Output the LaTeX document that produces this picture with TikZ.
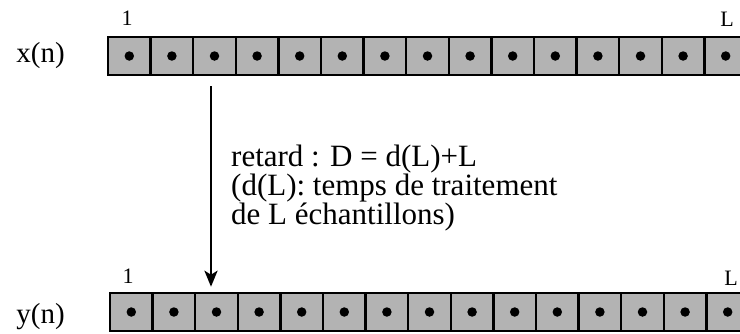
\documentclass[tikz,border=0pt]{standalone}
\usepackage{fontspec}
\setmainfont{Liberation Serif}
\usepackage{tikz}
\usetikzlibrary{positioning, arrows.meta, calc}

\definecolor{cellgray}{RGB}{179,179,179}

\begin{document}
\begin{tikzpicture}[
    x = 1pt, y = -1pt,
    > = {Stealth[length=16pt, width=13pt, inset=4pt]},
    cell/.style={draw, fill=cellgray, line width=2.4pt, inner sep=0pt, outer sep=0pt,
                 minimum width=42.6pt, minimum height=38.5pt},
    dot/.style={circle, fill, inner sep=0pt, minimum size=9.5pt},
    idx/.style={inner sep=0pt, font=\fontsize{22}{22}\selectfont},
    sig/.style={inner sep=0pt, font=\fontsize{29}{29}\selectfont},
    note/.style={inner sep=0pt, align=left, font=\fontsize{31}{24.5}\selectfont}
]
\useasboundingbox (0,0) rectangle (740,333);

% --- Input buffer x(n) ---
\foreach \k in {1,...,15} {
    \node[cell] (x\k) at ({108 + 42.6*(\k - 0.5)}, 56) {};
    \node[dot] (xd\k) at (x\k) {};
}
\node[sig, anchor=east] (xname) at (65, 56) {x(n)};
\node[idx] (xfirst) at (127, 18) {1};
\node[idx] (xlast) at (727, 19) {L};

% --- Output buffer y(n) ---
\foreach \k in {1,...,15} {
    \node[cell] (y\k) at ({110 + 42.6*(\k - 0.5)}, 312) {};
    \node[dot] (yd\k) at (y\k) {};
}
\node[sig, anchor=east] (yname) at (65, 317) {y(n)};
\node[idx] (yfirst) at (128, 276) {1};
\node[idx] (ylast) at (731, 278) {L};

% Delay between the two buffers
\coordinate (src) at ([xshift=-3.5pt, yshift=-11pt]x3.south);
\coordinate (dst) at ([yshift=6pt]y3.north);
\draw[->, line width=2.8pt] (src) -- (src |- dst);

\node[note, anchor=north west] (delay) at (231, 145)
    {retard : D = d(L)+L\\(d(L): temps de traitement\\de L échantillons)};

\end{tikzpicture}
\end{document}
